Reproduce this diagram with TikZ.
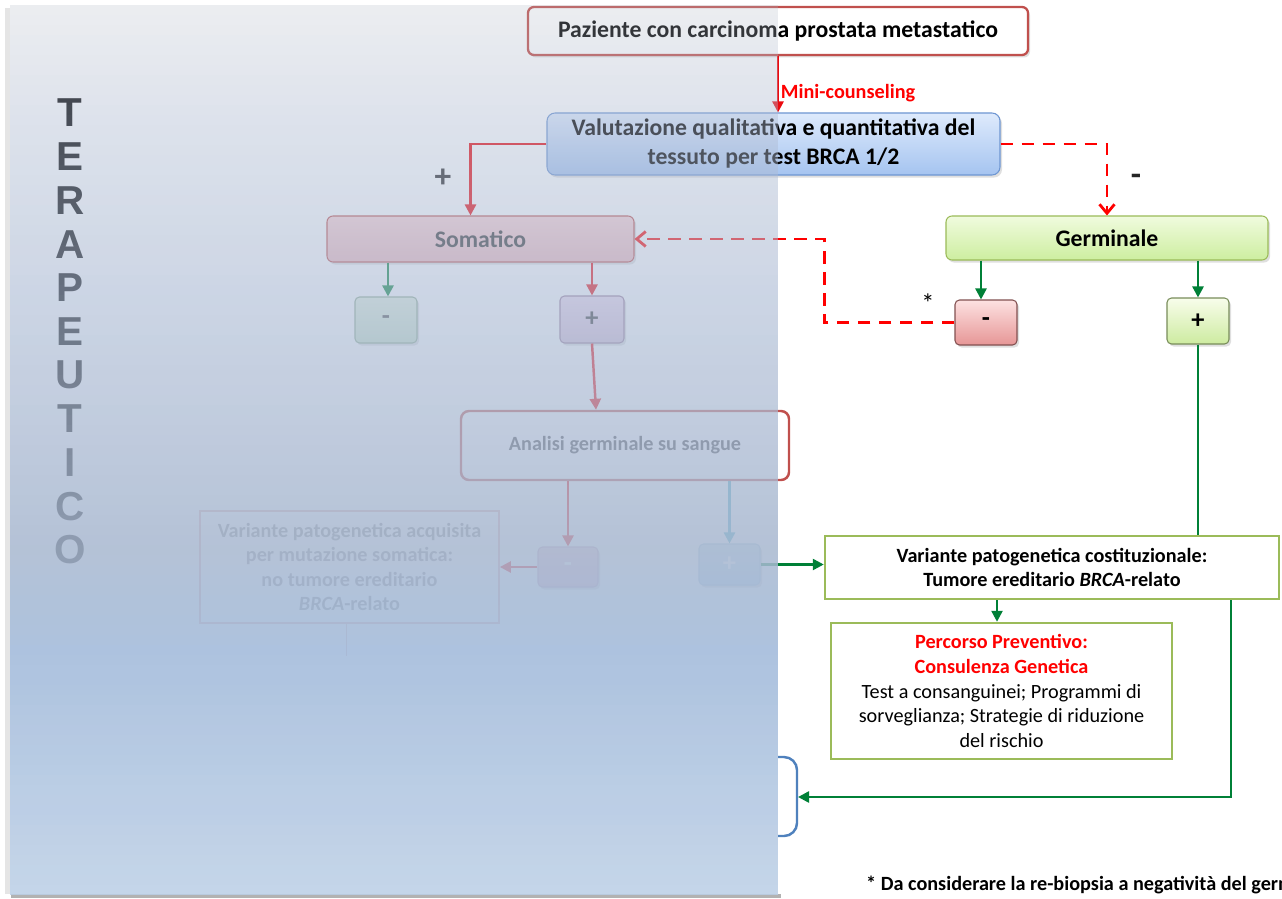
\documentclass[tikz,border=0pt]{standalone}
\usepackage{fontspec}
\setmainfont{Carlito}
\newfontfamily\lettersfont{Liberation Sans}
\usetikzlibrary{positioning,calc,arrows.meta,shadows}
\usepackage{xcolor}
\definecolor{boxred}{RGB}{192,80,77}
\definecolor{boxgreen}{RGB}{155,187,89}
\definecolor{linegreen}{RGB}{0,128,55}
\definecolor{lineteal}{RGB}{75,172,198}
\definecolor{linered}{RGB}{235,10,15}
\definecolor{brkblue}{RGB}{79,129,189}
% colours of the panel over the left part
\definecolor{panA}{RGB}{180,188,200}
\definecolor{panB}{RGB}{175,187,210}
\definecolor{panC}{RGB}{172,187,212}
\definecolor{panD}{RGB}{168,184,208}
\definecolor{panE}{RGB}{160,185,218}
\definecolor{panF}{RGB}{188,207,230}
% one band of the panel: y0, y1, opacity0, opacity1, colour0, colour1
\newcommand\panelband[6]{%
  \pgfmathtruncatemacro\bandn{(#2-#1)/10}
  \foreach \k in {1,...,\bandn}{
    \pgfmathsetmacro\bandf{(\k-0.5)/\bandn}
    \pgfmathtruncatemacro\bandp{100-100*\bandf}
    \pgfmathsetmacro\banda{#3+(#4-#3)*\bandf}
    \fill[#5!\bandp!#6, fill opacity=\banda] (10,{#1+10*\k-10}) rectangle (778,{#1+10*\k});
  }}
\tikzset{
    every node/.style={font=\fontsize{13.5}{16.5}\selectfont\bfseries, align=center},
    boxshadow/.style={drop shadow={opacity=0.25, shadow xshift=0.4mm, shadow yshift=-0.5mm}},
    topbox/.style={draw=boxred, line width=1.3pt, rounded corners=1.2mm, fill=white, boxshadow,
        minimum width=100mm, minimum height=9.6mm},
    valbox/.style={draw={rgb,255:red,110;green,150;blue,210}, line width=0.6pt, rounded corners=1.6mm,
        top color={rgb,255:red,222;green,234;blue,252}, bottom color={rgb,255:red,165;green,196;blue,240},
        boxshadow, minimum width=90.6mm, minimum height=12.4mm},
    sombox/.style={draw=boxred, line width=0.6pt, rounded corners=1.2mm, text=black!80,
        top color={rgb,255:red,252;green,212;blue,212}, bottom color={rgb,255:red,240;green,185;blue,190},
        boxshadow, minimum width=61.4mm, minimum height=9.2mm},
    gerbox/.style={draw=boxgreen, line width=0.6pt, rounded corners=1.2mm,
        top color={rgb,255:red,240;green,251;blue,222}, bottom color={rgb,255:red,205;green,238;blue,160},
        boxshadow, minimum width=64.4mm, minimum height=8.8mm},
    signbox/.style={line width=0.6pt, rounded corners=0.9mm, boxshadow,
        font=\fontsize{15}{15}\selectfont\bfseries, minimum width=12.4mm, minimum height=9.2mm},
    plainbox/.style={line width=1.4pt, fill=white, font=\fontsize{11.5}{14}\selectfont\bfseries},
    signlabel/.style={font=\fontsize{19}{19}\selectfont\bfseries, text=black!85},
    arrow/.style={-{Triangle[length=2.2mm, width=2.2mm]}, line width=1.4pt},
    dasharrow/.style={-{Straight Barb[length=1.8mm, width=3mm]}, line width=1.6pt,
        dash pattern=on 2.5mm off 1.7mm, draw=red},
    letter/.style={font=\lettersfont\bfseries\fontsize{23}{23}\selectfont, text=black},
}

\begin{document}
\begin{tikzpicture}[x=0.2mm, y=-0.2mm]
\useasboundingbox (0,0) rectangle (1282,899);
\clip (0,0) rectangle (1282,899);
\fill[white] (0,0) rectangle (1282,899);

% boxes of the flow
\node[topbox] (patient) at (778,31) {Paziente con carcinoma prostata metastatico};
\node[valbox] (valut) at (773.5,144) {Valutazione qualitativa e quantitativa del\\tessuto per test BRCA 1/2};
\node[sombox] (somatic) at (480.5,239) {Somatico};
\node[gerbox] (germinal) at (1107,238) {Germinale};

\node[signbox, draw={rgb,255:red,140;green,170;blue,140}, text=black!70,
    top color={rgb,255:red,228;green,242;blue,222}, bottom color={rgb,255:red,200;green,225;blue,200}] (sneg) at (386,320) {-};
\node[signbox, draw={rgb,255:red,150;green,120;blue,150}, text=black!80, minimum width=12.8mm, minimum height=9.4mm,
    top color={rgb,255:red,238;green,218;blue,238}, bottom color={rgb,255:red,215;green,190;blue,215}] (spos) at (592,319.5) {+};
\node[signbox, draw={rgb,255:red,130;green,80;blue,80}, minimum height=9mm,
    top color={rgb,255:red,253;green,225;blue,225}, bottom color={rgb,255:red,230;green,150;blue,150}] (gneg) at (986,322.5) {-};
\node[signbox, draw={rgb,255:red,120;green,140;blue,90},
    top color={rgb,255:red,248;green,253;blue,235}, bottom color={rgb,255:red,205;green,235;blue,160}] (gpos) at (1198,321) {+};

\node[draw=boxred, line width=1.4pt, rounded corners=1.6mm, fill=white, text=black!75,
    font=\fontsize{11.5}{14}\selectfont\bfseries, minimum width=65.6mm, minimum height=13.8mm] (blood) at (625,445.5) {Analisi germinale su sangue};
\node[signbox, draw={rgb,255:red,200;green,160;blue,185}, text=white, minimum width=12mm, minimum height=8mm,
    top color={rgb,255:red,235;green,200;blue,215}, bottom color={rgb,255:red,222;green,182;blue,202}] (aneg) at (568,567) {-};
\node[signbox, draw={rgb,255:red,170;green,200;blue,220}, text=white, minimum width=12.2mm, minimum height=8.2mm,
    top color={rgb,255:red,205;green,228;blue,242}, bottom color={rgb,255:red,185;green,215;blue,235}] (apos) at (729.5,564.5) {+};
\node[plainbox, draw=boxred!45, text=black!45, line width=1pt, minimum width=59.8mm, minimum height=22.4mm]
    (acquired) at (349.5,567) {Variante patogenetica acquisita\\per mutazione somatica:\\no tumore ereditario\\\textit{BRCA}-relato};
\node[plainbox, draw=boxgreen, minimum width=90.8mm, minimum height=12.6mm]
    (constit) at (1052,567.5) {Variante patogenetica costituzionale:\\Tumore ereditario \textit{BRCA}-relato};
\node[plainbox, draw=boxgreen, minimum width=68.2mm, minimum height=27.2mm, font=\fontsize{11.5}{14}\selectfont]
    (prevent) at (1001.5,691) {\textcolor{red}{\bfseries Percorso Preventivo:}\\\textcolor{red}{\bfseries Consulenza Genetica}\\Test a consanguinei; Programmi di\\sorveglianza; Strategie di riduzione\\del rischio};

% connectors
\draw[arrow, draw=linered] (patient.south) -- (patient.south |- valut.north)
    node[pos=0.66, right, inner sep=1pt, text=red, font=\fontsize{11.5}{12}\selectfont\bfseries] (mini) {Mini-counseling};
\draw[arrow, draw=linered] (valut.west) -| ([xshift=-2mm]somatic.north);
\draw[dasharrow] (valut.east) -| (germinal.north);
\node[signlabel] (plus) at (443,178) {+};
\node[signlabel] (minus) at (1136,180) {-};

\draw[arrow, draw=linegreen] ([xshift=0.4mm]sneg.north |- somatic.south) -- ([xshift=0.4mm]sneg.north);
\draw[arrow, draw=linered] (spos.north |- somatic.south) -- (spos.north);
\draw[arrow, draw=linegreen] ([xshift=-1mm]gneg.north |- germinal.south) -- ([xshift=-1mm]gneg.north);
\draw[arrow, draw=linegreen] (gpos.north |- germinal.south) -- (gpos.north);
\draw[dasharrow] (gneg.west) -- ++(-130,0) |- (somatic.east);
\node[font=\fontsize{15}{15}\selectfont] (star) at (928,303) {*};

\draw[arrow, draw=linered] (spos.south) -- ([xshift=0.8mm]spos.south |- blood.north);
\draw[arrow, draw=linered] (aneg.north |- blood.south) -- (aneg.north);
\draw[arrow, draw=lineteal] (apos.north |- blood.south) -- (apos.north);
\draw[arrow, draw=linered] (aneg.west) -- (aneg.west -| acquired.east);
\draw[line width=1pt, draw=boxred!40] ([xshift=-0.6mm]acquired.south) -- ++(0,32);
\draw[arrow, draw=linegreen] (apos.east) -- (apos.east -| constit.west);
\draw[line width=1.4pt, draw=linegreen] (gpos.south) -- (gpos.south |- constit.north);
\draw[arrow, draw=linegreen] ([xshift=-0.9mm]prevent.north |- constit.south) -- ([xshift=-0.9mm]prevent.north);

% bracket on the panel edge
\coordinate (brk) at (798,797);
\draw[line width=1.4pt, draw=brkblue, rounded corners=2.6mm] (778,757) -- (797,757) -- (797,836) -- (778,836);
\draw[arrow, draw=linegreen] ([xshift=-9.8mm]constit.south east) |- (brk);

\node[anchor=west, font=\fontsize{11.5}{12}\selectfont\bfseries] (note) at (860,885)
    {* Da considerare la re-biopsia a negatività del germinale};

% vertical title
\foreach \ch [count=\i] in {T,E,R,A,P,E,U,T,I,C,O}
    \node[letter] (title\i) at (70,113+43.7*\i-43.7) {\ch};

% panel over the left part
\fill[black!30] (11,894) rectangle (781,898);
\fill[black!10] (5,8) rectangle (10,894);
\panelband{5}{115}{0.25}{0.41}{panA}{panB}
\panelband{115}{305}{0.41}{0.62}{panB}{panC}
\panelband{305}{555}{0.62}{0.86}{panC}{panD}
\panelband{555}{655}{0.86}{0.86}{panD}{panE}
\panelband{655}{895}{0.86}{0.86}{panE}{panF}
\end{tikzpicture}
\end{document}
